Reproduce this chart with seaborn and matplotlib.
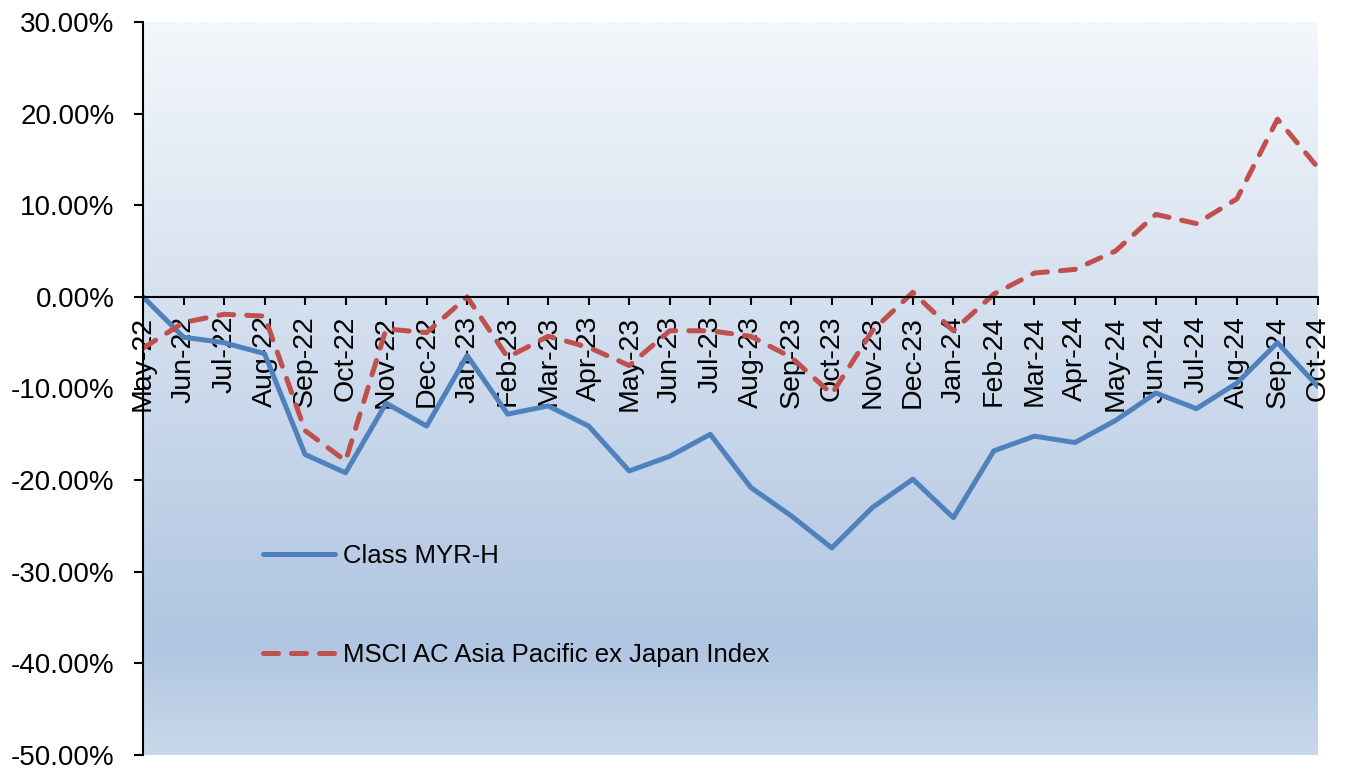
import numpy as np
import pandas as pd
import matplotlib
matplotlib.use("Agg")
import matplotlib.pyplot as plt
import seaborn as sns
from matplotlib.colors import LinearSegmentedColormap
from matplotlib.ticker import PercentFormatter

# monthly labels on the x axis
months = ["May-22", "Jun-22", "Jul-22", "Aug-22", "Sep-22", "Oct-22", "Nov-22", "Dec-22",
          "Jan-23", "Feb-23", "Mar-23", "Apr-23", "May-23", "Jun-23", "Jul-23", "Aug-23",
          "Sep-23", "Oct-23", "Nov-23", "Dec-23", "Jan-24", "Feb-24", "Mar-24", "Apr-24",
          "May-24", "Jun-24", "Jul-24", "Aug-24", "Sep-24", "Oct-24"]

# cumulative return, %
class_myr_h = [0.0, -4.4, -5.0, -6.2, -17.2, -19.2, -11.6, -14.1, -6.4, -12.8, -11.9, -14.1,
               -19.0, -17.4, -15.0, -20.8, -23.9, -27.4, -23.0, -19.9, -24.1, -16.8, -15.2,
               -15.9, -13.5, -10.5, -12.2, -9.4, -5.0, -9.8]
msci_apxj = [-5.6, -2.8, -1.9, -2.1, -14.6, -17.9, -3.5, -3.9, 0.0, -6.6, -4.3, -5.5,
             -7.5, -3.7, -3.7, -4.3, -6.6, -10.6, -3.7, 0.5, -3.7, 0.3, 2.6, 3.0,
             5.0, 9.0, 8.0, 10.7, 19.4, 14.1]

labels = ["Class MYR-H", "MSCI AC Asia Pacific ex Japan Index"]
colors = ["#4F81BD", "#C0504D"]

df = pd.DataFrame({"x": np.arange(len(months)), "myr": class_myr_h, "msci": msci_apxj})

sns.set_style("white")
plt.rcParams["font.family"] = ["Liberation Sans", "DejaVu Sans"]
plt.rcParams["axes.unicode_minus"] = False
plt.rcParams["text.color"] = "black"
plt.rcParams["xtick.color"] = "black"
plt.rcParams["ytick.color"] = "black"

fig = plt.figure(figsize=(13.46, 7.69), dpi=100)
ax = fig.add_axes([143 / 1346, 14 / 769, 1175 / 1346, 733 / 769])

# spine position first, it resets the tick setup
ax.spines["top"].set_visible(False)
ax.spines["right"].set_visible(False)
ax.spines["bottom"].set_position(("data", 0))

# plot area gradient fill
cmap = LinearSegmentedColormap.from_list(
    "bg", [(0.0, "#F4F7FB"), (0.85, "#B0C5E1"), (1.0, "#C8D8EA")])
grad = np.linspace(0, 1, 256).reshape(-1, 1)
ax.imshow(grad, cmap=cmap, aspect="auto", extent=[0, len(months) - 1, -50, 30],
          origin="upper", zorder=0)

dash = [3, 2.6]
sns.lineplot(data=df, x="x", y="myr", ax=ax, color=colors[0], linewidth=3.6,
             label=labels[0], zorder=3)
sns.lineplot(data=df, x="x", y="msci", ax=ax, color=colors[1], linewidth=3.6,
             label=labels[1], zorder=3)
red = ax.lines[-1]
red.set_dashes(dash)
red.set_dash_capstyle("round")

ax.set_xlim(0, len(months) - 1)
ax.set_ylim(-50, 30)
ax.set_yticks(np.arange(-50, 31, 10))
ax.yaxis.set_major_formatter(PercentFormatter(decimals=2))
ax.set_xticks(df["x"])
ax.set_xticklabels(months)
ax.set_xlabel("")
ax.set_ylabel("")

for s in ["left", "bottom"]:
    ax.spines[s].set_linewidth(1.5)
    ax.spines[s].set_color("black")
    ax.spines[s].set_zorder(4)

ax.tick_params(axis="y", direction="out", length=6.5, width=1.5, labelsize=20, pad=14,
               left=True, labelcolor="black")
ax.tick_params(axis="x", direction="out", length=6, width=1.5, labelsize=20.5, pad=7.5,
               bottom=True, labelrotation=90, labelcolor="black")

leg = ax.legend(loc="center left", bbox_to_anchor=(0.102, 0.204), frameon=False,
                fontsize=18.5, handlelength=2.8, handletextpad=0.3, labelspacing=2.9,
                borderpad=0, borderaxespad=0)
leg.get_lines()[1].set_dashes(dash)
leg.get_lines()[1].set_dash_capstyle("round")
for t in leg.get_texts():
    t.set_color("black")

fig.savefig("out.png", dpi=100)
